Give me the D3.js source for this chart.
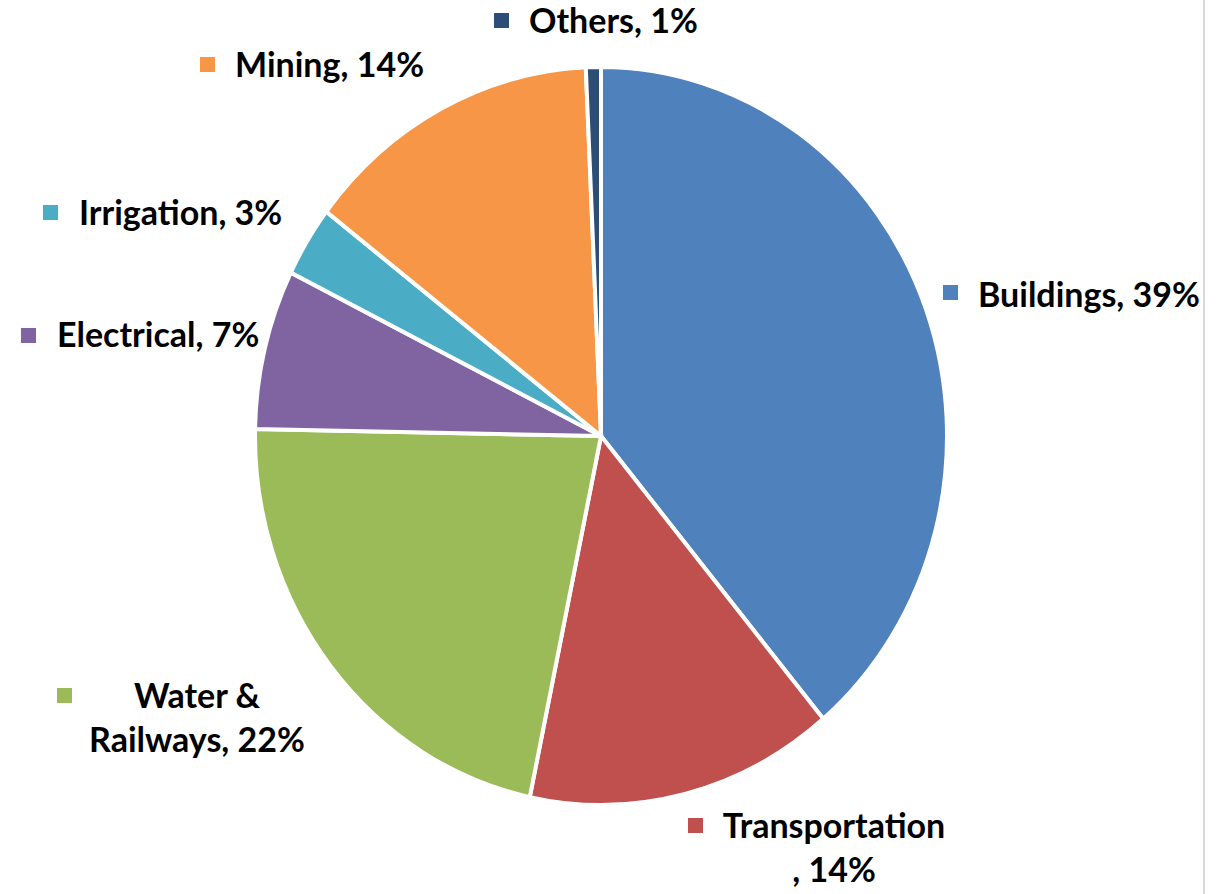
<!DOCTYPE html>
<html>
<head>
<meta charset="utf-8">
<script src="https://cdn.jsdelivr.net/npm/d3@7"></script>
<style>
  html, body { margin: 0; padding: 0; background: #fff; }
  svg { display: block; }
  .lbl { font-family: Lato, "Open Sans", sans-serif; font-weight: 700; fill: #000; }
</style>
</head>
<body>
<div id="chart"></div>
<script>
// data, clockwise from 12 o'clock
const categories = ["Buildings", "Transportation", "Water & Railways", "Electrical", "Irrigation", "Mining", "Others"];
const shares = [38.9, 14.4, 22.0, 7.0, 3.1, 13.9, 0.7];
const colors = ["#4F81BD", "#C0504D", "#9BBB59", "#8064A2", "#4BACC6", "#F79646", "#2C4D75"];

// where each label sits (text lines, anchor x, first baseline, legend box pos)
const labelLayout = {
    "Buildings":        { lines: ["Buildings, {p}"], x: 978, y: 307, anchor: "start", box: [943, 285] },
    "Transportation":   { lines: ["Transportation", ", {p}"], x: 834, y: 838, anchor: "middle", box: [688, 818] },
    "Water & Railways": { lines: ["Water &", "Railways, {p}"], x: 197, y: 708, anchor: "middle", box: [57, 688] },
    "Electrical":       { lines: ["Electrical, {p}"], x: 57, y: 347, anchor: "start", box: [21, 328] },
    "Irrigation":       { lines: ["Irrigation, {p}"], x: 79, y: 225, anchor: "start", box: [43, 205] },
    "Mining":           { lines: ["Mining, {p}"], x: 235, y: 77, anchor: "start", box: [200, 57] },
    "Others":           { lines: ["Others, {p}"], x: 529, y: 33, anchor: "start", box: [494, 13] }
};

const width = 1231, height = 894;
const cx = 601, cy = 436, r = 346, yStretch = 369 / 346;
const fontSize = 34, lineGap = 44, boxSize = 15;

const svg = d3.select("#chart").append("svg")
    .attr("width", width)
    .attr("height", height);

// thin frame line on the right
svg.append("line")
    .attr("x1", 1204).attr("x2", 1204)
    .attr("y1", 0).attr("y2", height)
    .attr("stroke", "#d9d9d9")
    .attr("stroke-width", 2);

const pie = d3.pie().sort(null).value(d => d.v);
const arc = d3.arc().innerRadius(0).outerRadius(r);
const data = categories.map((c, i) => ({ name: c, v: shares[i], color: colors[i] }));

const g = svg.append("g")
    .attr("transform", `translate(${cx},${cy}) scale(1,${yStretch})`);

g.selectAll("path")
    .data(pie(data))
    .enter()
    .append("path")
    .attr("d", arc)
    .attr("fill", d => d.data.color)
    .attr("stroke", "#fff")
    .attr("stroke-width", 4)
    .attr("vector-effect", "non-scaling-stroke");

const fmt = v => Math.round(v) + "%";

const labels = svg.selectAll(".label")
    .data(data)
    .enter()
    .append("g")
    .attr("class", "label");

labels.append("rect")
    .attr("x", d => labelLayout[d.name].box[0])
    .attr("y", d => labelLayout[d.name].box[1])
    .attr("width", boxSize)
    .attr("height", boxSize)
    .attr("fill", d => d.color);

labels.each(function (d) {
    let lay = labelLayout[d.name];
    let t = d3.select(this).append("text")
        .attr("class", "lbl")
        .attr("font-size", fontSize)
        .attr("text-anchor", lay.anchor);
    lay.lines.forEach((ln, i) => {
        t.append("tspan")
            .attr("x", lay.x)
            .attr("y", lay.y + i * lineGap)
            .text(ln.replace("{p}", fmt(d.v)));
    });
});
</script>
</body>
</html>
